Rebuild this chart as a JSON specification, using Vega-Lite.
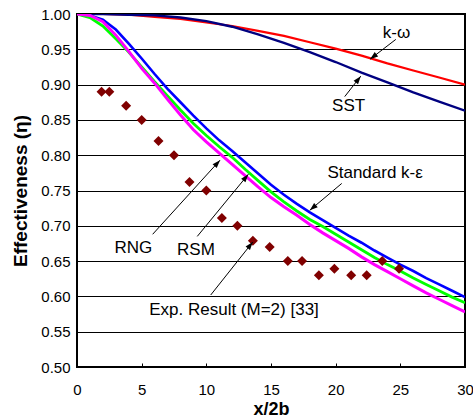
{
  "$schema": "https://vega.github.io/schema/vega-lite/v6.json",
  "width": 388,
  "height": 353,
  "autosize": {"type": "none"},
  "padding": {"left": 77, "top": 14, "right": 8, "bottom": 52},
  "config": {
    "font": "Liberation Sans",
    "view": {"stroke": "#000", "strokeWidth": 2},
    "axis": {"labelColor": "#000", "titleColor": "#000", "labelFont": "Liberation Sans", "titleFont": "Liberation Sans"}
  },
  "datasets": {
    "curves": [
      {"model": "k-ω", "x": 0, "eta": 1.0}, {"model": "k-ω", "x": 2, "eta": 1.0}, {"model": "k-ω", "x": 4, "eta": 0.999}, {"model": "k-ω", "x": 6, "eta": 0.996},
      {"model": "k-ω", "x": 8, "eta": 0.993}, {"model": "k-ω", "x": 10, "eta": 0.988}, {"model": "k-ω", "x": 12, "eta": 0.983}, {"model": "k-ω", "x": 14, "eta": 0.976},
      {"model": "k-ω", "x": 16, "eta": 0.969}, {"model": "k-ω", "x": 18, "eta": 0.960}, {"model": "k-ω", "x": 20, "eta": 0.951}, {"model": "k-ω", "x": 22, "eta": 0.941},
      {"model": "k-ω", "x": 24, "eta": 0.930}, {"model": "k-ω", "x": 26, "eta": 0.920}, {"model": "k-ω", "x": 28, "eta": 0.910}, {"model": "k-ω", "x": 30, "eta": 0.900},
      {"model": "SST", "x": 0, "eta": 1.0}, {"model": "SST", "x": 2, "eta": 1.0}, {"model": "SST", "x": 4, "eta": 0.999}, {"model": "SST", "x": 6, "eta": 0.998},
      {"model": "SST", "x": 8, "eta": 0.995}, {"model": "SST", "x": 10, "eta": 0.990}, {"model": "SST", "x": 12, "eta": 0.982}, {"model": "SST", "x": 14, "eta": 0.971},
      {"model": "SST", "x": 16, "eta": 0.959}, {"model": "SST", "x": 18, "eta": 0.946}, {"model": "SST", "x": 20, "eta": 0.932}, {"model": "SST", "x": 22, "eta": 0.917},
      {"model": "SST", "x": 24, "eta": 0.903}, {"model": "SST", "x": 26, "eta": 0.889}, {"model": "SST", "x": 28, "eta": 0.876}, {"model": "SST", "x": 30, "eta": 0.863},
      {"model": "Standard k-ε", "x": 0, "eta": 1.0}, {"model": "Standard k-ε", "x": 1, "eta": 0.998}, {"model": "Standard k-ε", "x": 2, "eta": 0.992}, {"model": "Standard k-ε", "x": 3, "eta": 0.978},
      {"model": "Standard k-ε", "x": 4, "eta": 0.958}, {"model": "Standard k-ε", "x": 5, "eta": 0.937}, {"model": "Standard k-ε", "x": 6, "eta": 0.915}, {"model": "Standard k-ε", "x": 7, "eta": 0.894},
      {"model": "Standard k-ε", "x": 8, "eta": 0.875}, {"model": "Standard k-ε", "x": 9, "eta": 0.856}, {"model": "Standard k-ε", "x": 10, "eta": 0.838}, {"model": "Standard k-ε", "x": 11, "eta": 0.821},
      {"model": "Standard k-ε", "x": 12, "eta": 0.806}, {"model": "Standard k-ε", "x": 13, "eta": 0.790}, {"model": "Standard k-ε", "x": 14, "eta": 0.774}, {"model": "Standard k-ε", "x": 15, "eta": 0.758},
      {"model": "Standard k-ε", "x": 16, "eta": 0.744}, {"model": "Standard k-ε", "x": 17, "eta": 0.731}, {"model": "Standard k-ε", "x": 18, "eta": 0.719}, {"model": "Standard k-ε", "x": 19, "eta": 0.708},
      {"model": "Standard k-ε", "x": 20, "eta": 0.697}, {"model": "Standard k-ε", "x": 21, "eta": 0.686}, {"model": "Standard k-ε", "x": 22, "eta": 0.676}, {"model": "Standard k-ε", "x": 23, "eta": 0.665},
      {"model": "Standard k-ε", "x": 24, "eta": 0.655}, {"model": "Standard k-ε", "x": 25, "eta": 0.645}, {"model": "Standard k-ε", "x": 26, "eta": 0.636}, {"model": "Standard k-ε", "x": 27, "eta": 0.626},
      {"model": "Standard k-ε", "x": 28, "eta": 0.617}, {"model": "Standard k-ε", "x": 29, "eta": 0.608}, {"model": "Standard k-ε", "x": 30, "eta": 0.599},
      {"model": "RNG", "x": 0, "eta": 1.0}, {"model": "RNG", "x": 1, "eta": 0.995}, {"model": "RNG", "x": 2, "eta": 0.983}, {"model": "RNG", "x": 3, "eta": 0.965},
      {"model": "RNG", "x": 4, "eta": 0.946}, {"model": "RNG", "x": 5, "eta": 0.925}, {"model": "RNG", "x": 6, "eta": 0.904}, {"model": "RNG", "x": 7, "eta": 0.884},
      {"model": "RNG", "x": 8, "eta": 0.864}, {"model": "RNG", "x": 9, "eta": 0.845}, {"model": "RNG", "x": 10, "eta": 0.828}, {"model": "RNG", "x": 11, "eta": 0.812},
      {"model": "RNG", "x": 12, "eta": 0.797}, {"model": "RNG", "x": 13, "eta": 0.780}, {"model": "RNG", "x": 14, "eta": 0.764}, {"model": "RNG", "x": 15, "eta": 0.748},
      {"model": "RNG", "x": 16, "eta": 0.734}, {"model": "RNG", "x": 17, "eta": 0.721}, {"model": "RNG", "x": 18, "eta": 0.709}, {"model": "RNG", "x": 19, "eta": 0.699},
      {"model": "RNG", "x": 20, "eta": 0.688}, {"model": "RNG", "x": 21, "eta": 0.677}, {"model": "RNG", "x": 22, "eta": 0.666}, {"model": "RNG", "x": 23, "eta": 0.655},
      {"model": "RNG", "x": 24, "eta": 0.645}, {"model": "RNG", "x": 25, "eta": 0.636}, {"model": "RNG", "x": 26, "eta": 0.626}, {"model": "RNG", "x": 27, "eta": 0.617},
      {"model": "RNG", "x": 28, "eta": 0.608}, {"model": "RNG", "x": 29, "eta": 0.599}, {"model": "RNG", "x": 30, "eta": 0.591},
      {"model": "RSM", "x": 0, "eta": 1.0}, {"model": "RSM", "x": 1, "eta": 0.998}, {"model": "RSM", "x": 2, "eta": 0.989}, {"model": "RSM", "x": 3, "eta": 0.970},
      {"model": "RSM", "x": 4, "eta": 0.947}, {"model": "RSM", "x": 5, "eta": 0.923}, {"model": "RSM", "x": 6, "eta": 0.902}, {"model": "RSM", "x": 7, "eta": 0.879},
      {"model": "RSM", "x": 8, "eta": 0.857}, {"model": "RSM", "x": 9, "eta": 0.836}, {"model": "RSM", "x": 10, "eta": 0.819}, {"model": "RSM", "x": 11, "eta": 0.803},
      {"model": "RSM", "x": 12, "eta": 0.787}, {"model": "RSM", "x": 13, "eta": 0.771}, {"model": "RSM", "x": 14, "eta": 0.755}, {"model": "RSM", "x": 15, "eta": 0.740},
      {"model": "RSM", "x": 16, "eta": 0.727}, {"model": "RSM", "x": 17, "eta": 0.715}, {"model": "RSM", "x": 18, "eta": 0.702}, {"model": "RSM", "x": 19, "eta": 0.690},
      {"model": "RSM", "x": 20, "eta": 0.679}, {"model": "RSM", "x": 21, "eta": 0.668}, {"model": "RSM", "x": 22, "eta": 0.656}, {"model": "RSM", "x": 23, "eta": 0.645},
      {"model": "RSM", "x": 24, "eta": 0.635}, {"model": "RSM", "x": 25, "eta": 0.625}, {"model": "RSM", "x": 26, "eta": 0.615}, {"model": "RSM", "x": 27, "eta": 0.605},
      {"model": "RSM", "x": 28, "eta": 0.596}, {"model": "RSM", "x": 29, "eta": 0.587}, {"model": "RSM", "x": 30, "eta": 0.578}
    ],
    "exp": [
      {"x": 1.9, "eta": 0.89}, {"x": 2.5, "eta": 0.89}, {"x": 3.8, "eta": 0.87}, {"x": 5.0, "eta": 0.85},
      {"x": 6.3, "eta": 0.82}, {"x": 7.5, "eta": 0.80}, {"x": 8.7, "eta": 0.762}, {"x": 10.0, "eta": 0.75},
      {"x": 11.2, "eta": 0.711}, {"x": 12.4, "eta": 0.70}, {"x": 13.6, "eta": 0.679}, {"x": 14.9, "eta": 0.67},
      {"x": 16.3, "eta": 0.65}, {"x": 17.4, "eta": 0.65}, {"x": 18.7, "eta": 0.63}, {"x": 19.9, "eta": 0.639},
      {"x": 21.2, "eta": 0.63}, {"x": 22.4, "eta": 0.63}, {"x": 23.6, "eta": 0.65}, {"x": 24.9, "eta": 0.639}
    ],
    "labels": [
      {"text": "k-ω", "x": 24.7, "eta": 0.973},
      {"text": "SST", "x": 21.0, "eta": 0.869},
      {"text": "Standard k-ε", "x": 23.05, "eta": 0.775},
      {"text": "RNG", "x": 4.36, "eta": 0.668},
      {"text": "RSM", "x": 9.2, "eta": 0.666},
      {"text": "Exp. Result (M=2) [33]", "x": 12.14, "eta": 0.581}
    ],
    "arrows": [
      {"x": 24.65, "eta": 0.964, "x2": 22.66, "eta2": 0.936},
      {"x": 20.7, "eta": 0.883, "x2": 21.94, "eta2": 0.912},
      {"x": 20.47, "eta": 0.760, "x2": 18.0, "eta2": 0.722},
      {"x": 5.85, "eta": 0.688, "x2": 11.06, "eta2": 0.793},
      {"x": 9.3, "eta": 0.685, "x2": 13.25, "eta2": 0.773},
      {"x": 10.34, "eta": 0.602, "x2": 13.59, "eta2": 0.677}
    ]
  },
  "encoding": {
    "x": {
      "field": "x", "type": "quantitative",
      "scale": {"domain": [0, 30], "nice": false, "zero": false},
      "axis": {
        "values": [0, 5, 10, 15, 20, 25, 30], "grid": false, "domain": false,
        "title": "x/2b", "titleFontSize": 18, "titleFontWeight": "bold", "titlePadding": 3,
        "labelFontSize": 15, "tickSize": -4, "tickColor": "#000", "tickWidth": 1, "labelPadding": 19, "labelFlush": false
      }
    },
    "y": {
      "field": "eta", "type": "quantitative",
      "scale": {"domain": [0.5, 1.0], "nice": false, "zero": false},
      "axis": {
        "values": [0.5, 0.55, 0.6, 0.65, 0.7, 0.75, 0.8, 0.85, 0.9, 0.95, 1.0], "labelOverlap": false, "format": ".2f",
        "grid": true, "gridColor": "#000", "gridWidth": 1, "gridOpacity": 1, "domain": false, "ticks": false,
        "labelPadding": 7, "labelFontSize": 15,
        "title": "Effectiveness (η)", "titleFontSize": 19, "titleFontWeight": "bold", "titlePadding": 10
      }
    }
  },
  "layer": [
    {
      "data": {"name": "curves"},
      "mark": {"type": "line", "clip": true},
      "encoding": {
        "color": {
          "field": "model", "type": "nominal", "legend": null,
          "scale": {"domain": ["k-ω", "SST", "Standard k-ε", "RNG", "RSM"], "range": ["#FF0000", "#000080", "#0000FF", "#00FF00", "#FF00FF"]}
        },
        "strokeWidth": {
          "field": "model", "type": "nominal", "legend": null,
          "scale": {"domain": ["k-ω", "SST", "Standard k-ε", "RNG", "RSM"], "range": [2.2, 3, 2, 3, 3.2]}
        }
      }
    },
    {
      "data": {"name": "exp"},
      "mark": {"type": "point", "shape": "diamond", "filled": true, "size": 100, "color": "#800000", "opacity": 1}
    },
    {
      "data": {"name": "arrows"},
      "mark": {"type": "rule", "color": "#000", "strokeWidth": 1},
      "encoding": {
        "x2": {"field": "x2"},
        "y2": {"field": "eta2"}
      }
    },
    {
      "data": {"name": "arrows"},
      "transform": [
        {"calculate": "atan2((datum.x2 - datum.x) * 388 / 30, (datum.eta2 - datum.eta) * 706) * 180 / PI", "as": "ang"},
        {"calculate": "datum.x2", "as": "x"},
        {"calculate": "datum.eta2", "as": "eta"}
      ],
      "mark": {"type": "point", "shape": "M0,0L-0.7,2L0.7,2Z", "filled": true, "size": 64, "color": "#000", "opacity": 1, "strokeWidth": 0},
      "encoding": {
        "angle": {"field": "ang", "type": "quantitative", "scale": null}
      }
    },
    {
      "data": {"name": "labels"},
      "mark": {"type": "text", "font": "Liberation Sans", "fontSize": 17, "align": "center", "baseline": "middle", "color": "#000"},
      "encoding": {
        "text": {"field": "text"}
      }
    }
  ]
}
